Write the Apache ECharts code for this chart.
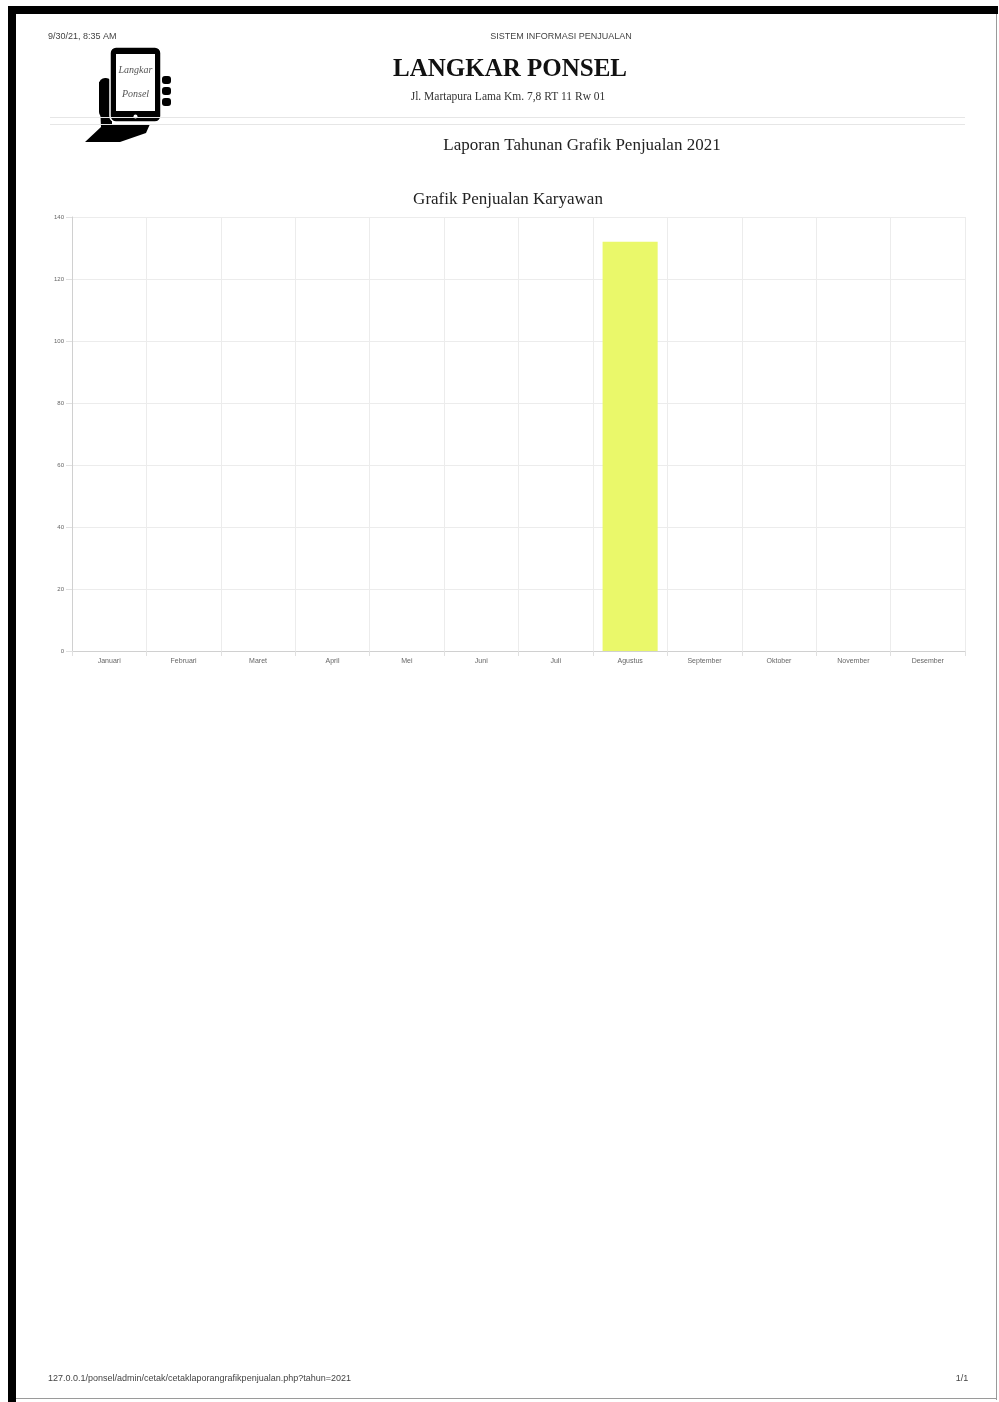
<!DOCTYPE html>
<html>
<head>
<meta charset="utf-8">
<title>Grafik Penjualan Karyawan</title>
<script src="https://cdn.jsdelivr.net/npm/echarts@6/dist/echarts.min.js"></script>
<style>
html, body { margin: 0; padding: 0; background: #fff; }
#chart { width: 999px; height: 1402px; }
</style>
</head>
<body>
<div id="chart"></div>
<script>
// data grafik penjualan
var bulan = ['Januari', 'Februari', 'Maret', 'April', 'Mei', 'Juni', 'Juli', 'Agustus', 'September', 'Oktober', 'November', 'Desember'];
var penjualan = [0, 0, 0, 0, 0, 0, 0, 132, 0, 0, 0, 0];
var yTicks = [0, 20, 40, 60, 80, 100, 120, 140];

var serif = '"Liberation Serif", "DejaVu Serif", serif';
var sans = '"Liberation Sans", Arial, sans-serif';

var myChart = echarts.init(document.getElementById('chart'), null, { renderer: 'canvas' });

var option = {
    backgroundColor: '#fff',
    animation: false,
    grid: {
        left: 72,
        right: 34,
        top: 217,
        bottom: 751,
        containLabel: false
    },
    xAxis: {
        type: 'category',
        data: bulan,
        axisLine: { lineStyle: { color: '#d0d0d0', width: 1 } },
        axisTick: { show: true, alignWithLabel: false, length: 5, lineStyle: { color: '#e0e0e0' } },
        axisLabel: { color: '#666', fontSize: 7, fontFamily: sans, margin: 7 },
        splitLine: { show: true, lineStyle: { color: '#ececec', width: 1 } }
    },
    yAxis: {
        type: 'value',
        min: yTicks[0],
        max: yTicks[yTicks.length - 1],
        interval: 20,
        axisLine: { show: true, lineStyle: { color: '#d0d0d0', width: 1 } },
        axisTick: { show: true, length: 6, lineStyle: { color: '#e0e0e0' } },
        axisLabel: { color: '#666', fontSize: 6, fontFamily: sans, margin: 8 },
        splitLine: { show: true, lineStyle: { color: '#ececec', width: 1 } }
    },
    series: [{
        type: 'bar',
        data: penjualan,
        barWidth: '74%',
        itemStyle: { color: '#eaf86a' }
    }],
    graphic: [
        // bingkai halaman
        { type: 'rect', shape: { x: 8, y: 6, width: 990, height: 8 }, style: { fill: '#000' } },
        { type: 'rect', shape: { x: 8, y: 6, width: 8, height: 1396 }, style: { fill: '#000' } },
        { type: 'rect', shape: { x: 996, y: 14, width: 1, height: 1386 }, style: { fill: '#9a9a9a' } },
        { type: 'rect', shape: { x: 16, y: 1398, width: 981, height: 1 }, style: { fill: '#9a9a9a' } },

        // header browser
        { type: 'text', x: 48, y: 37, style: { text: '9/30/21, 8:35 AM', fill: '#444', font: '9px ' + sans, textVerticalAlign: 'middle' } },
        { type: 'text', x: 561, y: 37, style: { text: 'SISTEM INFORMASI PENJUALAN', fill: '#444', font: '9px ' + sans, textAlign: 'center', textVerticalAlign: 'middle' } },

        // logo: tangan memegang ponsel
        { type: 'polygon', shape: { points: [[99, 82], [112, 82], [112, 124], [150, 124], [146, 133], [120, 142], [85, 142], [101, 127]] }, style: { fill: '#000' } },
        { type: 'rect', shape: { x: 99, y: 78, width: 13, height: 40, r: 6 }, style: { fill: '#000' } },
        { type: 'rect', shape: { x: 110, y: 47, width: 51, height: 75, r: 6 }, style: { fill: '#000', stroke: '#fff', lineWidth: 1.5 } },
        { type: 'rect', shape: { x: 116, y: 54, width: 39, height: 57 }, style: { fill: '#fff' } },
        { type: 'circle', shape: { cx: 135.5, cy: 116.5, r: 2 }, style: { fill: '#fff' } },
        { type: 'rect', shape: { x: 162, y: 76, width: 9, height: 8, r: 3 }, style: { fill: '#000' } },
        { type: 'rect', shape: { x: 162, y: 87, width: 9, height: 8, r: 3 }, style: { fill: '#000' } },
        { type: 'rect', shape: { x: 162, y: 98, width: 9, height: 8, r: 3 }, style: { fill: '#000' } },
        { type: 'text', x: 135.5, y: 70, style: { text: 'Langkar', fill: '#555', font: 'italic 10px ' + serif, textAlign: 'center', textVerticalAlign: 'middle' } },
        { type: 'text', x: 135.5, y: 94, style: { text: 'Ponsel', fill: '#555', font: 'italic 10px ' + serif, textAlign: 'center', textVerticalAlign: 'middle' } },

        // kop
        { type: 'text', x: 510, y: 70, style: { text: 'LANGKAR PONSEL', fill: '#111', font: 'bold 25px ' + serif, textAlign: 'center', textVerticalAlign: 'middle' } },
        { type: 'text', x: 508, y: 97, style: { text: 'Jl. Martapura Lama Km. 7,8 RT 11 Rw 01', fill: '#333', font: '11.5px ' + serif, textAlign: 'center', textVerticalAlign: 'middle' } },
        { type: 'rect', shape: { x: 50, y: 117, width: 915, height: 1 }, style: { fill: '#e6e6e6' } },
        { type: 'rect', shape: { x: 50, y: 124, width: 915, height: 1 }, style: { fill: '#e6e6e6' } },
        { type: 'text', x: 582, y: 146, style: { text: 'Laporan Tahunan Grafik Penjualan 2021', fill: '#222', font: '17px ' + serif, textAlign: 'center', textVerticalAlign: 'middle' } },
        { type: 'text', x: 508, y: 200, style: { text: 'Grafik Penjualan Karyawan', fill: '#222', font: '17px ' + serif, textAlign: 'center', textVerticalAlign: 'middle' } },

        // footer browser
        { type: 'text', x: 48, y: 1379, style: { text: '127.0.0.1/ponsel/admin/cetak/cetaklaporangrafikpenjualan.php?tahun=2021', fill: '#444', font: '9px ' + sans, textVerticalAlign: 'middle' } },
        { type: 'text', x: 962, y: 1379, style: { text: '1/1', fill: '#444', font: '9px ' + sans, textAlign: 'center', textVerticalAlign: 'middle' } }
    ]
};

myChart.setOption(option);

window.addEventListener('resize', function () {
    myChart.resize();
});
</script>
</body>
</html>
